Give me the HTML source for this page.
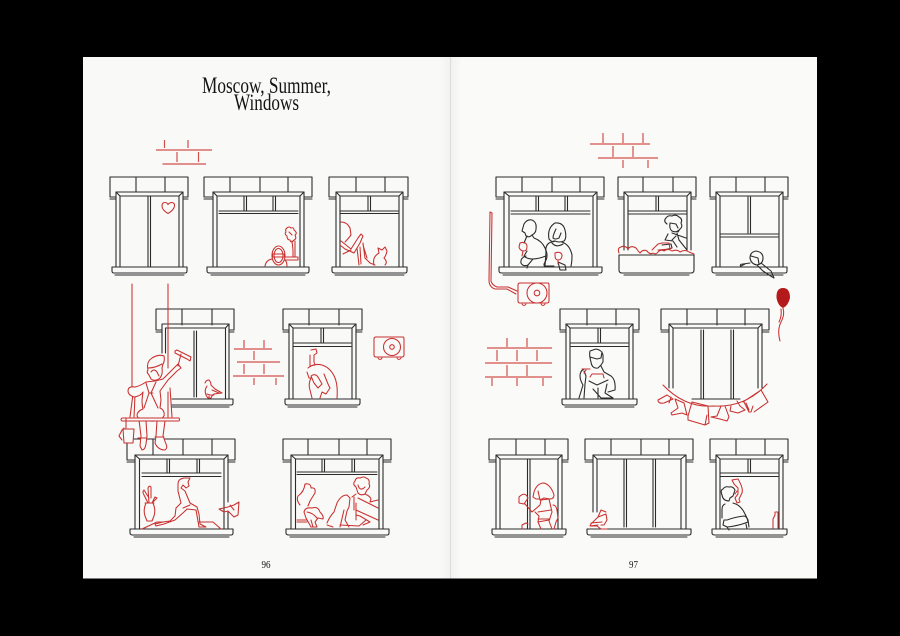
<!DOCTYPE html>
<html><head><meta charset="utf-8"><style>
html,body{margin:0;padding:0;background:#000;width:900px;height:636px;overflow:hidden}
svg{display:block}
.k path,.k circle{fill:none;stroke:#2c2c2c;stroke-width:1.1;stroke-linejoin:round;stroke-linecap:round}
.r path,.r circle,.r ellipse{fill:none;stroke:#c8302e;stroke-width:1.05;stroke-linejoin:round;stroke-linecap:round}
.r .w{fill:#f9f9f8}
.b path{fill:none;stroke:#d2504c;stroke-width:1.2}
.t{font-family:"Liberation Serif",serif;fill:#141414}
</style></head><body>
<svg width="900" height="636" viewBox="0 0 900 636" xmlns="http://www.w3.org/2000/svg">
<defs><linearGradient id="fl" x1="0" x2="1"><stop offset=".97" stop-color="#f9f9f8"/><stop offset="1" stop-color="#f2f2f1"/></linearGradient>
<linearGradient id="fr" x1="0" x2="1"><stop offset="0" stop-color="#f2f2f1"/><stop offset=".03" stop-color="#fafaf9"/></linearGradient></defs>
<rect width="900" height="636" fill="#000"/>
<rect x="83" y="57" width="367" height="521.500" fill="url(#fl)"/>
<rect x="451" y="57" width="366" height="521.500" fill="url(#fr)"/>
<rect x="450" y="57" width="1" height="521.500" fill="#dcdcdc"/>

<text class="t" x="202" y="93" font-size="23" textLength="129" lengthAdjust="spacingAndGlyphs">Moscow, Summer,</text>
<text class="t" x="234" y="110" font-size="23" textLength="65" lengthAdjust="spacingAndGlyphs">Windows</text>
<text class="t" x="261.500" y="568" font-size="11" fill="#444" textLength="9" lengthAdjust="spacingAndGlyphs">96</text>
<text class="t" x="629" y="568" font-size="11" fill="#444" textLength="9" lengthAdjust="spacingAndGlyphs">97</text>

<g class="k">
<!-- W1 -->
<path d="M110 197V177H188V197H183M110 197H116M110 199H116M183 199H188M136 177V192M165 177V192"/>
<path d="M116 267V192H183V267M120 267V196H179V267M116 192L120 196M183 192L179 196M148 196V267M150.500 196V267"/>
<path d="M112 267H187V271Q187 273 185 273H114Q112 273 112 271ZM115 275H184"/>
<!-- W2 -->
<path d="M204 197V177H312V197H304M204 197H213M204 199H213M304 199H312M230 177V192M260 177V192M288 177V192"/>
<path d="M213 267V192H304V267M217 267V196H300V267M213 192L217 196M304 192L300 196M219 211H298M219 213.500H298M244 196V211M246.500 196V211M273 196V211M275.500 196V211"/>
<path d="M207 267H309V271Q309 273 307 273H210Q207 273 207 271ZM211 275H305"/>
<!-- W3 -->
<path d="M329 197V177H408V197H403M329 197H336M329 199H336M403 199H408M356 177V192M385 177V192"/>
<path d="M336 267V192H403V267M340 267V196H399V267M336 192L340 196M403 192L399 196M340 211H398M340 213.500H398M368 196V211M370.500 196V211"/>
<path d="M332 267H407V271Q407 273 405 273H335Q332 273 332 271ZM335 275H404"/>
<!-- W4 -->
<path d="M156 330V309H234V330H229M156 330H162M156 332H162M229 332H234M182 309V325M212 309V325"/>
<path d="M162 353V324H229V399M165.500 353V328H225.500V399M225.500 328L229 324M194 331V397M196.500 331V397"/>
<path d="M172 399H233V403Q233 405 231 405H172M172 407H229"/>
<!-- W5 -->
<path d="M283 330V309H362V330H356M283 330H289M283 332H289M356 332H362M309 309V325M339 309V325"/>
<path d="M289 399V324H356V399M293 399V328H352V399M289 324L293 328M356 324L352 328M293 343H351M293 346.500H351M321 328V343M323.500 328V343"/>
<path d="M285 399H360V403Q360 405 358 405H288Q285 405 285 403ZM288 407H357"/>
<!-- W6 -->
<path d="M127 460V439H235V460H228M127 460H135M127 462H135M228 462H235M153 439V455M183 439V455M212 439V455"/>
<path d="M135 529V455H228V502M228 512V529M139.500 529V459H224V529M135 455L139.500 459M228 455L224 459M142 473H221M142 476.500H221M167 459V473M169.500 459V473M197 459V473M199.500 459V473"/>
<path d="M130 529H233V533Q233 535 231 535H133Q130 535 130 533ZM134 537H229"/>
<!-- W7 -->
<path d="M283 460V439H391V460H383M283 460H291M283 462H291M383 462H391M308 439V455M339 439V455M367 439V455"/>
<path d="M291 529V455H383V529M295.500 529V459H379V529M291 455L295.500 459M383 455L379 459M297 472H377M297 474.500H377M322 459V472M324.500 459V472M352 459V472M354.500 459V472"/>
<path d="M286 529H389V533Q389 535 387 535H289Q286 535 286 533ZM290 537H385"/>
<!-- W8 -->
<path d="M496 197V177H604V197H597M496 197H504M496 199H504M597 199H604M522 177V192M552 177V192M580 177V192"/>
<path d="M504 267V192H597V267M509 267V196H593V267M504 192L509 196M597 192L593 196M511 211H590M511 214H590M536 196V211M538.500 196V211M565 196V211M567.500 196V211"/>
<path d="M499 267H602V271Q602 273 600 273H502Q499 273 499 271ZM503 275H598"/>
<!-- W9 -->
<path d="M618 197V177H696V197H691M618 197H624M618 199H624M691 199H696M643 177V192M673 177V192"/>
<path d="M624 250V192H691V250M628 250V196H687V250M624 192L628 196M691 192L687 196M628 211H687M628 214H687M656 196V211M658.500 196V211"/>
<path d="M619 255H694V270Q694 273 691 273H622Q619 273 619 270ZM624 275H689"/>
<!-- W10 -->
<path d="M710 197V177H788V197H783M710 197H716M710 199H716M783 199H788M736 177V192M765 177V192"/>
<path d="M716 267V192H783V267M720 267V196H779V267M716 192L720 196M783 192L779 196M748 197V233M750.500 197V233M720 234H778M720 237H778"/>
<path d="M712 267H787V271Q787 273 785 273H715Q712 273 712 271ZM716 275H783"/>
<!-- W11 -->
<path d="M560 330V309H639V330H633M560 330H566M560 332H566M633 332H639M587 309V325M616 309V325"/>
<path d="M566 399V324H633V399M570 399V328H629V399M566 324L570 328M633 324L629 328M571 343H628M571 346.500H628M598 328V343M600.500 328V343"/>
<path d="M562 399H637V403Q637 405 635 405H565Q562 405 562 403ZM565 407H634"/>
<!-- W12 -->
<path d="M661 330V309H769V330H762M661 330H669M661 332H669M762 332H769M687 309V325M717 309V325M745 309V325"/>
<path d="M669 388V324H762V388M673 388V328H758V388M669 324L673 328M762 324L758 328M701 330V399M703.500 330V399M731 330V399M733.500 330V399M692 399H740"/>
<!-- W13 -->
<path d="M489 460V439H568V460H562M489 460H496M489 462H496M562 462H568M516 439V455M545 439V455"/>
<path d="M496 529V455H562V529M500 529V459H558V529M496 455L500 459M562 455L558 459M527.500 459V529M530 459V529"/>
<path d="M492 529H566V533Q566 535 564 535H495Q492 535 492 533ZM495 537H563"/>
<!-- W14 -->
<path d="M585 460V439H693V460H686M585 460H593M585 462H593M686 462H693M611 439V455M641 439V455M669 439V455"/>
<path d="M593 512V455H686V529M597 512V459H681V529M593 455L597 459M686 455L681 459M624 459V527M626.500 459V527M653 459V527M655.500 459V527"/>
<path d="M587 529H691V533Q691 535 689 535H590Q587 535 587 533ZM591 537H687"/>
<!-- W15 -->
<path d="M710 460V439H788V460H783M710 460H716M710 462H716M783 462H788M736 439V455M765 439V455"/>
<path d="M716 529V455H783V529M720 529V459H779V529M716 455L720 459M783 455L779 459M720 473H778M720 476.500H778M748 459V473M750.500 459V473"/>
<path d="M712 529H787V533Q787 535 785 535H715Q712 535 712 533ZM716 537H783"/>

<!-- W8 man -->
<path d="M524 224Q527 219 532 220Q537 222 536 229Q536 233 532 235L534 238Q542 241 545 248Q549 256 545 262Q543 265 545 267M524 224L522 231L525 233L526 236Q529 238 532 235M527 236L524 243M527 251L524 256Q530 262 546 256M526 256Q520 258 521 263Q523 267 528 265L527 268M533 259L528 265"/>
<!-- W8 woman -->
<path d="M549 239Q547 228 555 223Q563 222 565 230Q567 238 564 241Q559 243 555 241Q552 243 549 239M556 229Q553 235 553 238Q555 240 559 238L561 233M554 241L549 243Q545 246 546 252L545 266H554M562 242Q570 245 572 255Q572 262 571 266M558 262L560 270H566L565 265ZM552 243Q556 248 563 244"/>
<!-- W9 figure -->
<path d="M667 224Q663 221 666 218Q668 215 672 216Q676 214 679 217Q683 219 681 223Q683 227 680 229L678 232M670 223Q669 229 672 231Q676 233 679 230M670 223L676 224L678 228M668 234L665 240L673 241L677 247M672 233L686 238M677 233L679 240L687 250M672 240L676 236M662 245L671 244L672 248L664 250"/>
<!-- W10 figure -->
<path d="M750 258Q750 252 756 251Q763 252 763 258Q763 264 757 265Q751 264 750 258ZM751 256L758 258L759 264M761 263L771 271L774 278L769 275L763 271L757 265M750 263L743 264Q739 264 741 267M745 264L741 266"/>
<!-- W11 man -->
<path d="M591 362Q589 355 590 351L596 349Q602 350 603 355L603 362L601 365L598 368Q592 369 591 362ZM590 357L597 359L601 358L602 352M601 366L604 372L611 376Q616 380 615 390L608 392M607 384L605 393L613 398H601L593 389M589 381L597 385L608 380M584 369Q580 371 580 376Q580 380 583 385L579 398M584 371L586 376L585 384L584 398M598 388V398"/>
<!-- W15 person -->
<path d="M722 495Q720 490 723 489Q725 486 729 487Q733 486 735 490L733 496L730 498L729 501Q723 501 722 495ZM725 504Q722 505 722 510V518M733 503Q741 505 745 514L748 520L749 527M724 520L723 525L727 527Q738 526 748 522Q747 516 744 516Q735 517 727 520L724 520M727 527L729 530M746 524L747 529"/>
</g>

<g class="b">
<path d="M156 150H212M162.500 164H206M164.500 140V148M188 140V148M177 152V162M198.500 152V162"/>
<path d="M234 349H272M237 362H280M233 376H284M244 340V348M264 340V348M254 351V360M244 364V374M264 364V374M254 378V385M276 378V385"/>
<path d="M590 144H650M598 158H658M603 133V143M623 133V143M643 133V143M613 146V157M633 146V157M623 160V168M648 160V168"/>
<path d="M487 348H552M485 363H552M485 377H552M507 338V347M527 338V347M497 350V361M517 350V361M537 350V361M507 365V376M527 365V376M492 378V386M517 378V386M543 378V386"/>
</g>

<g class="r">
<!-- heart -->
<path d="M168 213.500Q162 210 162 206Q162 202.500 165 202.500Q167 202.500 168 204.500Q169.500 202.500 172 202.500Q175 203 174.500 206Q174 210 168 213.500Z"/>
<!-- W2 person + flower -->
<ellipse cx="278.500" cy="255.500" rx="6.500" ry="9.500"/><ellipse cx="278.500" cy="255.500" rx="4.500" ry="7"/>
<path d="M272.500 254H284.500V257H272.500ZM265 266Q266 260 272 259M285 260Q287 262 287 266"/>
<path d="M287 228Q285 229 286 232Q284 234 287 236Q287 240 290 240Q291 244 294 240Q297 239 295 235Q298 233 294 230Q294 227 291 228Q289 226 287 228ZM289 232L292 235M292 241L293 250V257M295 241L295 257M285 257H298V260H285"/>
<!-- W3 person + cat -->
<path d="M341 222Q347 222 350 228L351 235Q348 239 345 242M341 241L351 249L358 238L361 234L363 236L360 243L354 253L345 249L340 245M351 250L343 254M357 248L359 265M360 247L361 264M363 243L365 258L370 263L375 265M363 245L367 258"/>
<path d="M374 265Q372 257 379 253L378 248L382 250L385 247L387 251Q386 256 384 258Q388 262 385 265"/>
<!-- AC left -->
<path d="M376 337H403Q404 337 404 339V355Q404 357 402 357H376Q374 357 374 355V339Q374 337 376 337Z"/>
<circle cx="392" cy="347" r="8.500"/><circle cx="392" cy="347" r="2.300"/>
<path d="M378 358Q380 361 382 358M397 358Q399 361 401 358"/>
<!-- pigeon W4 -->
<path d="M205 383Q206 380 209 380Q211 382 211 385L215 389L222 393L214 394L212 396L211 398H208Q203 392 207 386M207 394L210 395H214M212 390L219 393M209 396V398"/>
<!-- W5 figure -->
<path d="M311 350L316 349L317 353L314 355L314 362L315 365L310 366M310 355L310 366M308 368Q314 363 322 365Q331 368 335 378Q338 386 337 398M307 372L309 378L311 378Q308 384 310 390L312 398M311 376Q315 373 318 377L322 384L318 388L314 383ZM324 374L328 384L330 388L326 394L322 392L320 398"/>
<!-- Washer figure -->
<path d="M132 284V386M168 284V368M133 394L130 417M135 396L134 417M170 388L172 417M168 392L168 417"/>
<path class="w" d="M139 420L141 436L140 446L142 450Q145 450 146 444L147 436L146 421ZM157 421L156 436L155 443Q158 450 165 450Q168 448 166 444L163 436L165 421Z"/>
<path class="w" d="M146 382Q140 386 135 387Q128 386 128 391Q128 395 134 397Q141 396 143 392L142 400Q142 405 143 409Q137 411 137 416Q140 421 150 421Q160 422 164 416Q165 410 160 408L161 400L160 391L168 380L177 371L181 368L178 364Q170 372 163 379L155 381Z"/>
<path d="M146 383L149 393L144 408M156 382L151 393L158 408M149 393H153"/>
<path class="w" d="M175 351L177 350L191 357L190 361L187 359L175 353ZM181 354L178 366"/>
<path class="w" d="M122 418H179Q180 419.500 179 421H122Q120 419.500 122 418Z"/>
<path class="w" d="M149 375Q146 372 148 370Q146 362 152 358Q159 354 164 356Q165 361 163 364L162 368Q163 374 160 378Q155 382 151 379Z"/>
<path d="M148 368Q155 368 162 364M151 372Q154 368 157 372L159 376"/>
<path class="w" d="M123 429H134L133 443H124Z"/>
<path d="M124 428L122 430L119 436L122 440M126 428V418"/>
<path d="M138 438H146M155 437H164"/>
<!-- Lunge woman -->
<path d="M178 484Q178 479 184 478H190L188 482L189 486L186 488L183 485L181 488L185 491L190 503L197 507L199 514L200 524L206 527H199L196 510L187 509L184 512L175 520L164 524L156 526L155 524L163 522L170 521L175 516L176 508L181 503L178 491Z"/>
<path d="M142 529L157 522H163M199 522H213L221 529M183 508L190 505"/>
<path d="M146 503Q143 510 145 516L147 521H152L154 516Q156 510 153 503ZM145 503H154M148 503L144 495Q142 492 144 490L149 498M149 503L148 488Q149 485 151 487L151 498M152 503L155 497L157 498L152 503"/>
<path d="M219 509L228 507L234 505L239 502L238 515L234 517L228 511L224 512ZM230 505L234 510"/>
<!-- W7 -->
<path d="M300 505Q296 500 298 496Q304 492 305 484Q311 483 311 488Q316 487 315 493L310 501L308 506M297 520H307M297 522H307"/>
<path d="M304 512Q305 507 312 508Q318 506 320 512Q324 516 323 519L318 518L315 522L317 527H311L306 518ZM307 512Q313 513 317 518M311 520L313 527"/>
<path d="M327 523Q330 516 334 512L337 503Q341 495 347 495L350 498L349 507L347 511L345 520L349 527M333 527L327 525M340 527L344 510"/>
<path d="M356 487Q352 484 355 481Q356 477 360 478Q364 476 366 478Q370 479 369 484Q371 487 367 490L365 494Q361 496 358 493ZM358 485Q360 492 365 487M352 497L356 494M365 494Q370 496 371 499L370 502M354 497V510M356 503V520M370 502L378 500M356 510L378 520M356 515L360 516L370 522L363 525M378 508L358 498M340 525L359 526L366 520"/>
<!-- W8 glasses -->
<path d="M520 243Q526 241 527 246Q527 251 524 251Q520 251 519 247ZM523 251L522 256"/>
<path d="M555 253Q561 251 562 255Q562 260 558 260Q555 260 555 255ZM558 260V264"/>
<!-- Pipe + AC -->
<path d="M490 212L489 280Q489 287 495 289L507 289L516 294M492 213L491 281Q492 285 497 287L508 287L517 291M490 212L492 213"/>
<path d="M520 283H548Q549 283 549 285V301Q549 303 547 303H520Q518 303 518 301V285Q518 283 520 283Z"/>
<circle cx="537" cy="293" r="10"/><circle cx="537" cy="293" r="2.800"/>
<path d="M522 304Q524 307 526 304M541 304Q543 307 545 304"/>
<!-- planter flowers + can -->
<path d="M619 253Q617 248 621 247Q625 245 628 249Q631 245 636 248Q638 251 640 253Q643 249 647 251Q650 255 653 253Q656 255 658 252Q661 249 664 251Q668 248 672 251Q677 249 680 252Q685 249 689 252L694 254M652 250L658 244L662 243L669 243L670 249L658 250"/>
<!-- Balloon string -->
<path d="M783 308Q785 315 781 322Q777 330 780 341M781 309Q782 316 779 322"/>
<!-- Garland -->
<path d="M663 385Q685 408 713 406Q745 408 767 384"/>
<path d="M667 395L658 400Q658 404 664 403L673 399ZM671 397L669 403"/>
<path d="M675 399L678 408L671 413L672 415L682 413L687 415L684 403Z"/>
<path d="M692 402L688 416L688 420L705 425L709 423L708 406ZM705 425L707 415"/>
<path d="M721 406L717 416L711 417L720 419L727 421L729 417L725 406"/>
<path d="M731 406L730 411L738 413L745 410L740 406L737 401"/>
<path d="M744 402L749 412L751 412L753 406M746 403L749 410"/>
<path d="M743 402L761 390L768 402L754 412"/>
<!-- W11 cups -->
<path d="M582 369H590M586 370L584 373M590 377L592 374H603L604 378"/>
<!-- W13 -->
<path d="M534 492Q537 483 544 483Q551 485 554 495Q554 499 550 499L544 498L540 500L538 491M534 492L533 497L536 499H540"/>
<path d="M519 497Q525 491 528 498L524 504L519 503ZM525 504L532 512L540 505L541 500L549 499L552 512L549 521L552 529M535 512L539 516L538 522L541 529M538 512L551 510M538 519H550M538 522L549 520"/>
<path d="M553 505Q556 505 557 510L558 518L556 522L554 529M522 529V525L526 523L528 524"/>
<!-- Pigeon W14 -->
<path d="M606 512L601 510L598 517L591 524L590 526L597 526L601 529H607M598 517L606 514L607 520L604 525L601 525M591 523L602 522M590 526L598 525"/>
<!-- W15 smoke + bottle -->
<path d="M732 480L738 479Q741 484 742 488Q743 492 741 495L739 499L740 502L737 503L735 498L738 494L738 488L734 484ZM737 491L735 494"/>
<path d="M775 512L775 515L773 519V528M776 512H778V528"/>
</g>
<path d="M776.500 298Q776 288 783 288Q790 288 790 298Q788 306 783 308Q778 306 776.500 298Z" fill="#b4191b"/>
</svg>
</body></html>
